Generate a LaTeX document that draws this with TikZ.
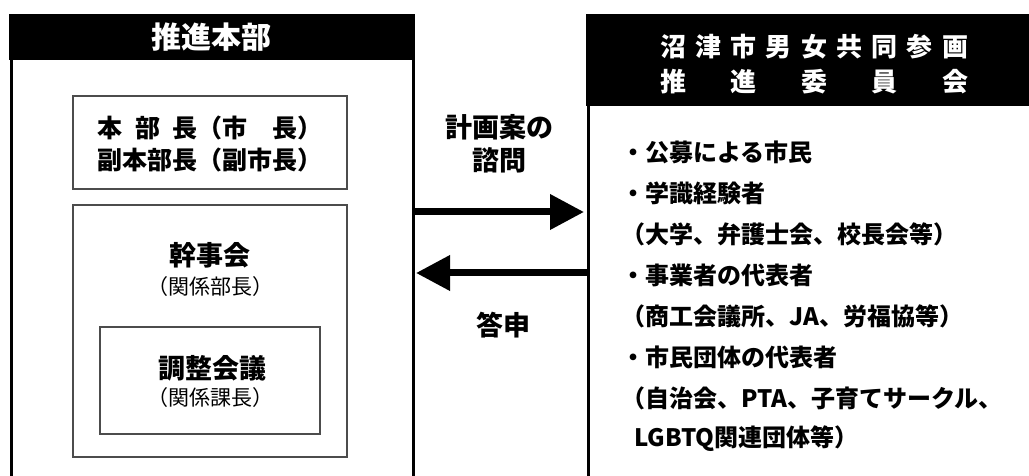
\documentclass[tikz,border=0pt]{standalone}
\usepackage{fontspec}
\setmainfont{Noto Sans CJK JP}
\usetikzlibrary{arrows.meta}
\tikzset{
  frame/.style={draw, line width=2.5bp, anchor=north west, inner sep=0},
  band/.style={fill=black, anchor=north west, inner sep=0},
  sub/.style={draw=black!70, line width=1.5bp, inner sep=0},
  bt/.style={font=\bfseries\fontsize{#1bp}{#1bp}\selectfont, inner sep=0},
  rt/.style={font=\fontsize{#1bp}{#1bp}\selectfont, inner sep=0},
  bigarrow/.style={line width=7bp, -{Triangle[length=34bp,width=34bp]}},
}
\begin{document}
\begin{tikzpicture}[x=1bp,y=-1bp]
\useasboundingbox (0,0) rectangle (1029,476);
% left: headquarters
\node[frame, minimum width=402bp, minimum height=480bp] (honbu) at (10,14) {};
\node[band, minimum width=404bp, minimum height=46bp] (honbuhead) at (9,14) {};
\node[bt=30, text=white] (honbutitle) at (honbuhead.center) {推進本部};
\node[sub, minimum width=274bp, minimum height=93bp] (bucho) at (210,142.5) {};
\node[bt=25] (bucho1) at (210,128) {\makebox[225bp]{本\hspace{.5em}部\hspace{.5em}長（市\hfill 長）}};
\node[bt=25] (bucho2) at (210,160) {副本部長（副市長）};
\node[sub, minimum width=274bp, minimum height=252bp] (kanji) at (210,331) {};
\node[bt=27] (kanjiname) at (210,255) {幹事会};
\node[rt=21] (kanjimem) at (210,287) {（関係部長）};
\node[sub, minimum width=220bp, minimum height=107bp] (chosei) at (210,380.5) {};
\node[bt=27] (choseiname) at (212,368) {調整会議};
\node[rt=21] (choseimem) at (210,398) {（関係課長）};
% right: committee
\node[frame, minimum width=460bp, minimum height=480bp] (iinkai) at (587,14) {};
\node[band, minimum width=462bp, minimum height=92bp] (iinkaihead) at (586,14) {};
\node[bt=26, text=white, align=center, font=\bfseries\fontsize{26bp}{35bp}\selectfont] (iinkaititle) at (814,64)
  {\makebox[308bp]{沼\hfill 津\hfill 市\hfill 男\hfill 女\hfill 共\hfill 同\hfill 参\hfill 画}\\
   \makebox[308bp]{推\hfill 進\hfill 委\hfill 員\hfill 会}};
\foreach \txt [count=\i from 0] in {・公募による市民,・学識経験者,（大学、弁護士会、校長会等）,・事業者の代表者,
  （商工会議所、JA、労福協等）,・市民団体の代表者,（自治会、PTA、子育てサークル、,\hspace*{13bp}LGBTQ関連団体等）}
  \node[bt=24, anchor=west] (mem\i) at (621,{152+41*\i}) {\txt};
% consultation and reply
\node[bt=27] (shimon1) at (499,127) {計画案の};
\node[bt=27] (shimon2) at (499,160) {諮問};
\node[bt=27] (toshin) at (503,325) {答申};
\coordinate (goY) at (0,212);
\coordinate (backY) at (0,273);
\draw[bigarrow, shorten >=3bp] (honbu.east |- goY) -- (iinkai.west |- goY);
\draw[bigarrow, shorten >=1.5bp] (iinkai.west |- backY) -- (honbu.east |- backY);
\end{tikzpicture}
\end{document}
